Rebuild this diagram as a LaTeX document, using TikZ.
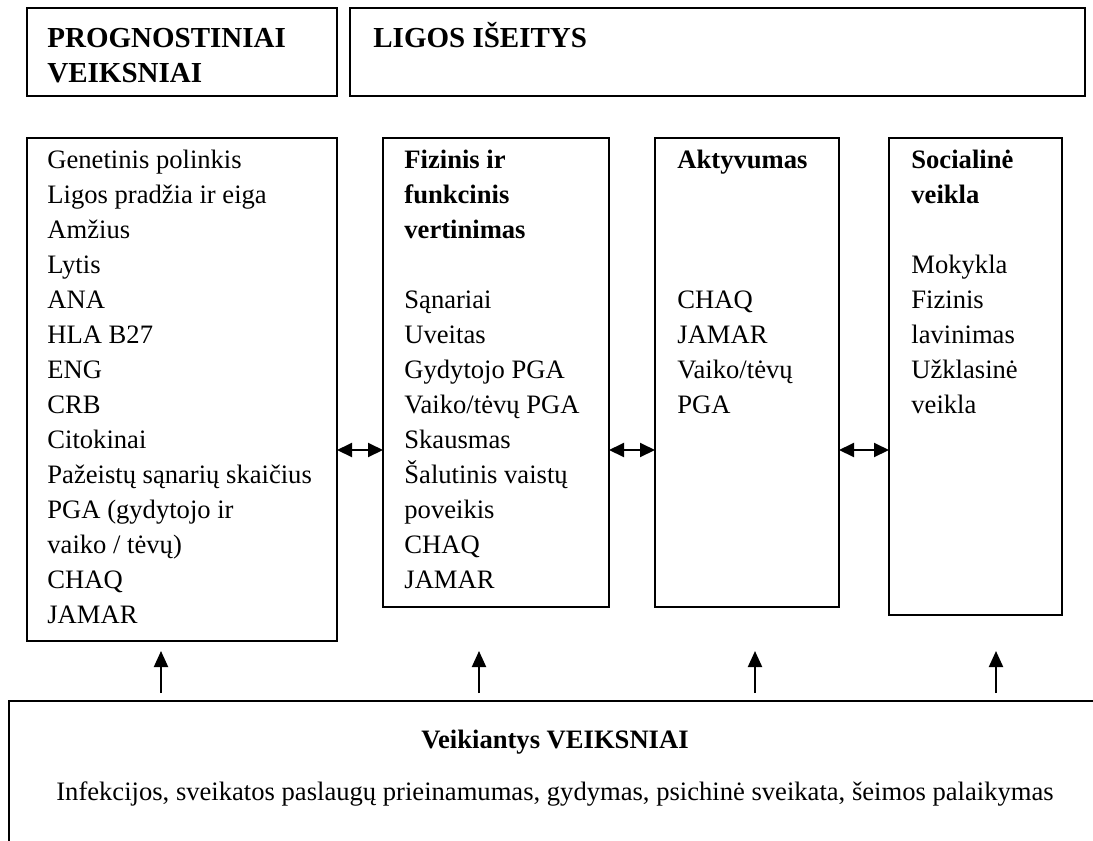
\documentclass[tikz,border=0pt]{standalone}
\usepackage{fontspec}
\setmainfont{Liberation Serif}
\usetikzlibrary{arrows.meta,calc,positioning}
\newcommand{\rows}[1]{\begin{tabular}[t]{@{}l@{}}#1\end{tabular}}
\tikzset{
  box/.style={draw, line width=1.1pt, anchor=north west, inner sep=0pt, outer sep=0pt},
  txt/.style={anchor=base west, inner sep=0pt, font=\fontsize{13.3}{17.5}\selectfont},
  head/.style={anchor=base west, inner sep=0pt, font=\fontsize{14.5}{17.5}\selectfont\bfseries},
  ctxt/.style={anchor=base, inner sep=0pt, font=\fontsize{13.3}{17.5}\selectfont},
  uparr/.style={line width=1pt, -{Triangle[length=8pt,width=7pt]}},
  dblarr/.style={line width=1pt, {Triangle[length=7.5pt,width=7pt]}-{Triangle[length=7.5pt,width=7pt]}},
}

\begin{document}
\begin{tikzpicture}[x=0.5pt,y=-0.5pt]
                \useasboundingbox (0,0) rectangle (1093,841);
                % header boxes
                \node[box, minimum width=155pt, minimum height=44pt] (prog) at (27,8) {};
                \node[box, minimum width=367.5pt, minimum height=44pt] (iseit) at (350,8) {};
                \node[head] (progt) at (47,47) {\rows{PROGNOSTINIAI\\VEIKSNIAI}};
                \node[head] (iseitt) at (373,47) {LIGOS IŠEITYS};
                % column boxes
                \node[box, minimum width=155pt, minimum height=251.5pt] (boxA) at (27,138) {};
                \node[box, minimum width=113pt, minimum height=234.5pt] (boxB) at (383,138) {};
                \node[box, minimum width=92pt, minimum height=234.5pt] (boxC) at (655,138) {};
                \node[box, minimum width=86.5pt, minimum height=238.5pt] (boxD) at (889,138) {};
                \node[txt] (textA) at (47,168) {\rows{Genetinis polinkis\\Ligos pradžia ir eiga\\Amžius\\Lytis\\ANA\\HLA B27\\ENG\\CRB\\Citokinai\\Pažeistų sąnarių skaičius\\PGA (gydytojo ir\\vaiko / tėvų)\\CHAQ\\JAMAR}};
                \node[txt] (textB) at (404,168) {\rows{\textbf{Fizinis ir}\\\textbf{funkcinis}\\\textbf{vertinimas}\\[17.5pt]Sąnariai\\Uveitas\\Gydytojo PGA\\Vaiko/tėvų PGA\\Skausmas\\Šalutinis vaistų\\poveikis\\CHAQ\\JAMAR}};
                \node[txt] (textC) at (677,168) {\rows{\textbf{Aktyvumas}\\[52.5pt]CHAQ\\JAMAR\\Vaiko/tėvų\\PGA}};
                \node[txt] (textD) at (911,168) {\rows{\textbf{Socialinė}\\\textbf{veikla}\\[17.5pt]Mokykla\\Fizinis\\lavinimas\\Užklasinė\\veikla}};
                % links between columns
                \coordinate (mid) at (0,450);
                \draw[dblarr] (boxA.east |- mid) -- (boxB.west |- mid);
                \draw[dblarr] (boxB.east |- mid) -- (boxC.west |- mid);
                \draw[dblarr] (boxC.east |- mid) -- (boxD.west |- mid);
                % acting factors
                \draw[line width=1.1pt] (1093,701) -- (9,701) -- (9,841);
                \node[ctxt] (veik) at (555,748) {\textbf{Veikiantys VEIKSNIAI}};
                \node[ctxt] (veikt) at (555,800) {Infekcijos, sveikatos paslaugų prieinamumas, gydymas, psichinė sveikata, šeimos palaikymas};
                \foreach \x [count=\i] in {161,479,755,996} {
                    \coordinate (t\i) at (\x,693);
                    \coordinate (h\i) at (\x,651);
                    \draw[uparr] (t\i) -- (h\i);
                }
\end{tikzpicture}
\end{document}
